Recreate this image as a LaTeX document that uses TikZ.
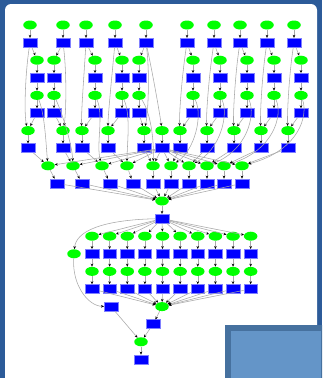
\documentclass[tikz,border=0pt]{standalone}
\usetikzlibrary{shapes.geometric,arrows.meta}
\definecolor{bgblue}{HTML}{2C5B99}
\definecolor{boxdark}{HTML}{46719F}
\definecolor{boxlight}{HTML}{6495C8}
\definecolor{ngreen}{HTML}{00FF00}
\definecolor{nblue}{HTML}{0000FF}
\definecolor{nborder}{HTML}{8080FF}
\definecolor{edgegray}{HTML}{A8A8A8}
\begin{document}
\begin{tikzpicture}[x=1pt,y=-1pt,
  ell/.style={ellipse, fill=ngreen, minimum width=13.5pt, minimum height=9pt, inner sep=0pt},
  box/.style={rectangle, fill=nblue, draw=nborder, line width=0.5pt, minimum width=13.5pt, minimum height=9pt, inner sep=0pt},
  conn/.style={draw=edgegray, line width=0.55pt, -{Stealth[length=3pt,width=2.6pt,color=black]}}]
\useasboundingbox (0,0) rectangle (322,378);
\clip (0,0) rectangle (322,378);
% background and panel
\fill[bgblue] (0,0) rectangle (322,378);
\fill[white, rounded corners=6pt] (5,4) rectangle (317,384);
\fill[boxdark] (225,325) rectangle (330,390);
\fill[boxlight] (231,331) rectangle (320.5,390);

% upper chains
\foreach \i/\a/\b in {1/30/37, 2/63/54, 3/86/95, 4/115/122, 5/146/139, 6/187/193, 7/214/220, 8/240/247, 9/267/274, 10/294/301} {
  \node[ell] (e1-\i) at (\a,25) {};
  \node[box] (r1-\i) at (\a,42.6) {};
  \node[ell] (e2-\i) at (\b,60.2) {};
  \node[box] (r2-\i) at (\b,77.8) {};
  \node[ell] (e3-\i) at (\b,95.4) {};
  \node[box] (r3-\i) at (\b,113) {};
}
\foreach \k/\a in {1/28,2/63,3/82,4/108,5/144,6/162,7/180,8/207,9/234,10/261,11/288} {
  \node[ell] (e4-\k) at (\a,130.6) {};
  \node[box] (r8-\k) at (\a,148.2) {};
}
\foreach \k/\a/\b in {1/48/57, 2/73/82, 3/102/110, 4/127/133, 5/153/153, 6/171/171, 7/189/189, 8/207/207, 9/224/224, 10/242/242} {
  \node[ell] (e9-\k) at (\a,165.8) {};
  \node[box] (r10-\k) at (\b,183.4) {};
}
\node[ell] (e11) at (162,201) {};
\node[box] (r12) at (162,218.6) {};
\foreach \j in {0,...,9} {
  \pgfmathsetmacro\xx{92+17.63*\j}
  \node[ell] (e13-\j) at (\xx,236.2) {};
  \node[box] (r14-\j) at (\xx,253.8) {};
  \node[ell] (e15-\j) at (\xx,271.4) {};
  \node[box] (r16-\j) at (\xx,289) {};
}
\node[ell] (lone) at (74,253.8) {};
\node[box] (r17) at (111,306.6) {};
\node[ell] (e17) at (162,306.6) {};
\node[box] (r18) at (153,324.2) {};
\node[ell] (e19) at (141,341.8) {};
\node[box] (r20) at (141,359.4) {};

% edges: chains
\foreach \i in {1,...,10} {
  \draw[conn] (e1-\i) -- (r1-\i);
  \draw[conn] (r1-\i) -- (e2-\i);
  \draw[conn] (e2-\i) -- (r2-\i);
  \draw[conn] (r2-\i) -- (e3-\i);
  \draw[conn] (e3-\i) -- (r3-\i);
}
\foreach \i/\k in {1/1,2/2,3/3,4/4,5/5,6/7,7/8,8/9,9/10,10/11} {
  \draw[conn] (r3-\i) -- (e4-\k);
}
\foreach \k in {1,...,11} {
  \draw[conn] (e4-\k) -- (r8-\k);
}
% long edges R1 -> E4
\foreach \i/\k/\ca/\cb in {1/1/25/24, 2/2/67/66, 3/3/84/81, 4/4/112/108, 5/5/150/148, 6/7/182/179, 7/8/209/206, 8/9/235/233, 9/10/262/260, 10/11/289/287} {
  \draw[conn] (r1-\i) .. controls (\ca,75) and (\cb,115) .. (e4-\k);
}
\draw[conn] (r1-5) .. controls (153,75) and (160,115) .. (e4-6);
% long edges E3 -> E9
\foreach \i/\ca/\cb in {1/45/46, 2/63/72, 3/104/96, 4/131/127, 5/152/154} {
  \draw[conn] (e3-\i) .. controls (\ca,115) and (\cb,145) .. (e9-\i);
}
\foreach \i/\ca/\cb in {6/203/195, 7/229/220, 8/256/247, 9/283/274, 10/308/300} {
  \draw[conn] (e3-\i) .. controls (\ca,115) and (\cb,150) .. (e9-\i);
}
% R8 -> E9
\foreach \k/\m in {1/1,2/2,3/3,4/4,5/5,7/6,8/7,9/8,10/9,11/10} {
  \draw[conn] (r8-\k) -- (e9-\m);
}
\foreach \m in {1,...,10} {
  \draw[conn] (r8-6) -- (e9-\m);
}
% lower part
\foreach \k in {1,...,10} {
  \draw[conn] (e9-\k) -- (r10-\k);
  \draw[conn] (r10-\k) -- (e11);
}
\draw[conn] (e11) -- (r12);
\foreach \j in {0,...,9} {
  \draw[conn] (r12) -- (e13-\j);
  \draw[conn] (e13-\j) -- (r14-\j);
  \draw[conn] (r14-\j) -- (e15-\j);
  \draw[conn] (e15-\j) -- (r16-\j);
  \draw[conn] (r16-\j) -- (e17);
}
\draw[conn] (r12) .. controls (100,220) and (76,232) .. (lone);
\draw[conn] (lone) .. controls (72,285) and (88,306) .. (r17);
\draw[conn] (e17) -- (r18);
\draw[conn] (r18) -- (e19);
\draw[conn] (r17) -- (e19);
\draw[conn] (e19) -- (r20);
\end{tikzpicture}
\end{document}
